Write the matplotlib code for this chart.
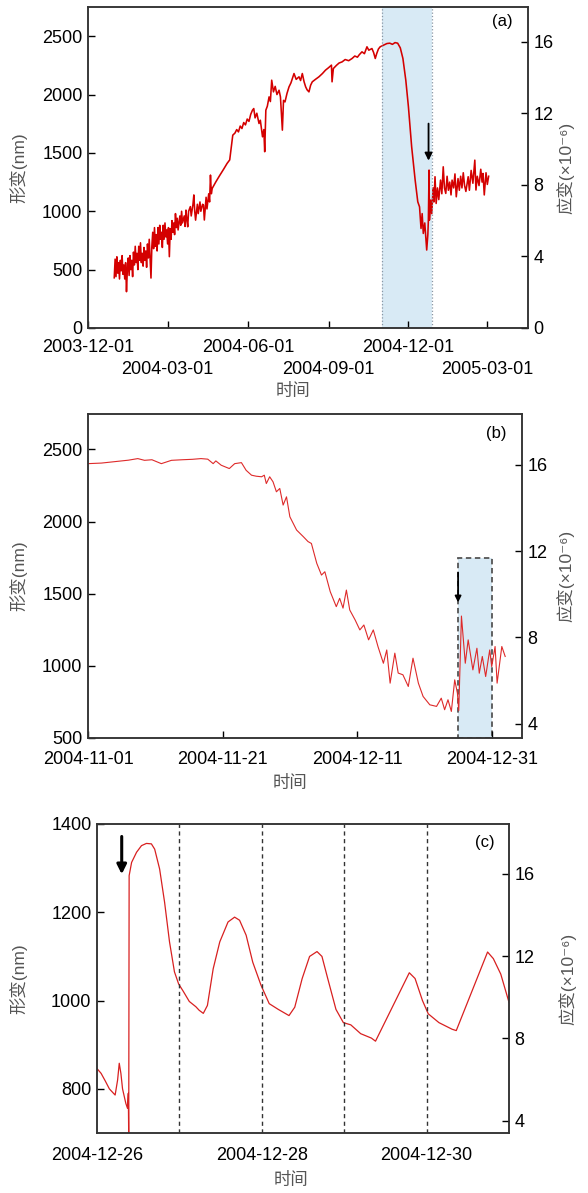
import numpy as np
import pandas as pd
import matplotlib
matplotlib.use('Agg')
import matplotlib.pyplot as plt
import matplotlib.dates as mdates
from matplotlib.patches import Rectangle

plt.rcParams['font.family'] = ['Liberation Sans', 'Noto Sans CJK SC', 'DejaVu Sans']
plt.rcParams['axes.unicode_minus'] = False

# ---- (a) 2003-12 ~ 2005-03, days from 2003-12-01
a_day = [30, 31, 32, 33, 34, 35, 36, 37, 38, 39, 40, 41, 42, 43, 44, 45, 46, 47, 48, 49,
         50, 51, 52, 53, 54, 55, 56, 57, 58, 59, 60, 61, 62, 63, 64, 65, 66, 67, 68, 69,
         70, 71, 72, 73, 74, 75, 76, 77, 78, 79, 80, 81, 82, 83, 84, 85, 86, 87, 88, 89,
         90, 91, 92, 93, 94, 95, 96, 97, 98, 99, 100, 101, 102, 103, 105, 106, 107, 108, 110, 111,
         112, 113, 114, 115, 117, 118, 120, 121, 122, 123, 125, 126, 128, 129, 131, 132, 133, 135, 136, 138,
         139, 140, 141, 142, 146, 150, 155, 159, 162, 164, 165.5, 168, 170, 172, 174, 176, 178, 180, 182, 184,
         186, 188, 189.5, 191, 193, 195.5, 197, 199.5, 201, 202, 203.3, 205, 207, 208.5, 210, 212, 214, 216, 218.4, 220,
         222.2, 223.5, 225.2, 227.5, 229.8, 232, 235.5, 238, 241.2, 243, 245, 247, 248.8, 250.5, 252.6, 254.5, 256.4, 260, 264, 268,
         271.5, 275, 278.3, 279, 280.5, 284, 287, 290.5, 294, 298, 301.9, 305, 308, 310, 313.2, 316, 318.9, 321, 324.6, 326.5,
         328.4, 330, 332, 334, 337, 341.7, 345, 348, 351, 354, 357, 360, 363.3, 366.3, 370, 374, 377, 379, 380.7, 382,
         383.3, 385, 387.2, 388.5, 389.1, 389.9, 390.3, 391.8, 393, 394.5, 395.5, 396.7, 398, 399.5, 401, 403, 404.5, 406.1, 407.5, 409,
         410.5, 412, 413.5, 415, 416.2, 418, 419.5, 421, 423, 424.5, 426, 427.5, 429, 430.5, 432, 434.6, 436, 438, 440, 442.2,
         443.5, 445, 447, 449, 450.5, 451.6, 453, 455, 456.5, 458]
a_nm = [430, 590, 440, 610, 470, 560, 420, 580, 490, 620, 460, 540, 420, 560, 311, 500, 600, 450, 620, 500,
        580, 440, 650, 540, 700, 560, 640, 500, 700, 580, 730, 560, 640, 530, 690, 580, 660, 520, 720, 600,
        760, 600, 428, 700, 820, 680, 860, 700, 800, 660, 860, 720, 880, 760, 820, 690, 880, 760, 900, 780,
        840, 720, 860, 611, 850, 760, 920, 820, 900, 800, 980, 860, 940, 840, 960, 880, 1000, 900, 960, 870,
        1010, 930, 867, 1000, 1040, 960, 1060, 1140, 1000, 924, 1060, 980, 1080, 1000, 1060, 1053, 925, 1120, 1020, 1150,
        1080, 1310, 1150, 1196, 1250, 1300, 1360, 1410, 1440, 1560, 1652, 1670, 1700, 1680, 1730, 1709, 1760, 1740, 1790, 1770,
        1830, 1866, 1880, 1800, 1840, 1752, 1780, 1638, 1700, 1510, 1866, 1900, 1980, 1940, 2123, 2023, 2070, 2000, 2037, 1980,
        1695, 1950, 1937, 2010, 2066, 2100, 2180, 2130, 2152, 2120, 2180, 2110, 2066, 2040, 2023, 2080, 2109, 2130, 2152, 2180,
        2209, 2230, 2252, 2109, 2223, 2250, 2270, 2280, 2300, 2290, 2309, 2330, 2320, 2340, 2366, 2350, 2409, 2380, 2394, 2360,
        2309, 2350, 2390, 2409, 2420, 2437, 2440, 2430, 2445, 2440, 2400, 2309, 2123, 1895, 1552, 1267, 1081, 1038, 853, 980,
        810, 900, 668, 800, 924, 1353, 924, 1096, 980, 1200, 1080, 1296, 1067, 1200, 1100, 1267, 1150, 1381, 1200, 1153,
        1300, 1180, 1250, 1140, 1267, 1200, 1320, 1124, 1280, 1180, 1300, 1200, 1330, 1220, 1170, 1296, 1180, 1350, 1240, 1438,
        1182, 1300, 1220, 1360, 1250, 1324, 1140, 1330, 1230, 1300]
a_ticks_top = ['2003-12-01', '2004-06-01', '2004-12-01']
a_ticks_low = ['2004-03-01', '2004-09-01', '2005-03-01']

# ---- (b) 2004-11-01 ~ 2005-01-02, days from 2004-11-01
b_day = [0, 2, 4, 6, 7.4, 8.4, 9.5, 10.9, 12.4, 14, 15.5, 16.8, 17.8, 18.6, 19, 19.8, 21, 21.8, 22.8, 23.5,
         24.3, 25, 25.8, 26.2, 26.5, 27, 27.5, 28, 28.5, 29, 29.5, 30, 31, 32, 32.7, 33.2, 34, 34.7, 35.2, 36,
         36.9, 37.4, 37.9, 38.4, 38.9, 39.7, 40.4, 41, 41.7, 42.4, 43.1, 43.9, 44.4, 44.9, 45.6, 46.1, 46.8, 47.6, 48.3, 49.1,
         49.8, 50.8, 51.8, 52.5, 53, 53.5, 54, 54.5, 54.9, 55.1, 55.5, 56.07, 56.5, 57.2, 57.8, 58.15, 58.6, 59.1, 59.7, 60,
         60.5, 60.8, 61.5, 62]
b_nm = [2401, 2405, 2415, 2425, 2436, 2424, 2428, 2401, 2424, 2428, 2431, 2436, 2432, 2401, 2420, 2390, 2367, 2401, 2408, 2355,
        2321, 2314, 2310, 2321, 2263, 2310, 2275, 2206, 2229, 2114, 2171, 2033, 1941, 1895, 1861, 1848, 1710, 1629, 1652, 1514,
        1410, 1468, 1400, 1525, 1387, 1318, 1249, 1283, 1180, 1249, 1133, 1018, 1110, 880, 1088, 950, 938, 857, 1053, 880,
        788, 730, 719, 776, 696, 765, 684, 903, 811, 690, 1345, 1018, 1180, 972, 1122, 949, 1065, 926, 1110, 995,
        1134, 880, 1134, 1065]
b_ticks = ['2004-11-01', '2004-11-21', '2004-12-11', '2004-12-31']

# ---- (c) 2004-12-26 ~ 2004-12-31, days from 2004-12-26
c_day = [0.00, 0.05, 0.10, 0.15, 0.20, 0.22, 0.25, 0.27, 0.29, 0.31, 0.35, 0.37, 0.38, 0.385, 0.39, 0.42, 0.48, 0.54, 0.60, 0.66,
         0.70, 0.76, 0.82, 0.88, 0.94, 0.99, 1.05, 1.12, 1.20, 1.24, 1.29, 1.34, 1.41, 1.49, 1.59, 1.67, 1.73, 1.81, 1.89, 1.99,
         2.09, 2.20, 2.33, 2.40, 2.49, 2.58, 2.67, 2.73, 2.80, 2.90, 2.99, 3.08, 3.20, 3.33, 3.38, 3.79, 3.86, 3.95, 4.02, 4.15,
         4.31, 4.36, 4.74, 4.81, 4.90, 5.00]
c_nm = [846, 835, 818, 800, 790, 786, 820, 858, 835, 800, 767, 756, 790, 690, 1283, 1313, 1336, 1351, 1356, 1355,
        1343, 1298, 1223, 1133, 1065, 1038, 1020, 998, 986, 978, 971, 989, 1072, 1133, 1178, 1189, 1182, 1148, 1087, 1035,
        993, 980, 966, 985, 1050, 1100, 1111, 1100, 1050, 980, 950, 945, 925, 915, 908, 1063, 1050, 1000, 970, 950,
        935, 932, 1110, 1095, 1060, 996]
c_ticks = ['2004-12-26', '2004-12-28', '2004-12-30']
c_lines = ['2004-12-27', '2004-12-28', '2004-12-29', '2004-12-30']

W, H = 588, 1193
fig = plt.figure(figsize=(W / 100, H / 100), dpi=100)


def box(l, t, r, b):
    return [l / W, 1 - b / H, (r - l) / W, (b - t) / H]


RED = '#d40000'
LAB = '#555555'
FS = 13
shade = '#d8eaf5'


def style(ax, axr):
    for a in (ax, axr):
        for s in a.spines.values():
            s.set_color('#333333')
            s.set_linewidth(1.1)
    ax.tick_params(direction='in', length=5, labelsize=FS, width=1, pad=4, top=False)
    axr.tick_params(direction='in', length=5, labelsize=FS, width=1, pad=4)


def labels(ax, axr, xl, xb, yl, yr, yc=0.5):
    ax.set_xlabel('时间', fontsize=12.5, color=LAB)
    ax.xaxis.label.set_va('center')
    ax.xaxis.set_label_coords(xl, xb)
    ax.set_ylabel('形变(nm)', fontsize=12.5, color=LAB)
    ax.yaxis.label.set_va('center')
    ax.yaxis.set_label_coords(yl, yc)
    axr.set_ylabel('应变(×10⁻⁶)', fontsize=12.5, color=LAB, rotation=90)
    axr.yaxis.label.set_va('center')
    axr.yaxis.set_label_coords(yr, yc)


# ================= (a)
ax1 = fig.add_axes(box(88, 7, 528, 328))
ax1r = ax1.twinx()
t0 = pd.Timestamp('2003-12-01')
ax1.plot(t0 + pd.to_timedelta(a_day, unit='D'), a_nm, color=RED, lw=1.15)
ax1.axvspan(pd.Timestamp('2004-11-01'), pd.Timestamp('2004-12-28'), color=shade, zorder=0, lw=0)
for d in ['2004-11-01', '2004-12-28']:
    ax1.axvline(pd.Timestamp(d), color='#8a96a3', ls=':', lw=0.9)
ax1.set_xlim(t0, pd.Timestamp('2005-04-17'))
ax1.set_ylim(0, 2750)
ax1.set_yticks([0, 500, 1000, 1500, 2000, 2500])
ax1r.set_ylim(0, 17.95)
ax1r.set_yticks([0, 4, 8, 12, 16])
ax1.set_xticks([pd.Timestamp(d) for d in a_ticks_top])
ax1.set_xticklabels(a_ticks_top)
ax1.set_xticks([pd.Timestamp(d) for d in a_ticks_low], minor=True)
ax1.set_xticklabels(a_ticks_low, minor=True)
style(ax1, ax1r)
ax1.tick_params(axis='x', which='major', pad=8)
ax1.tick_params(axis='x', which='minor', direction='in', length=5, width=1, labelsize=FS, pad=23.5)
ax1.annotate('', xy=(t0 + pd.Timedelta(days=389.3), 1410), xytext=(t0 + pd.Timedelta(days=389.3), 1775),
             arrowprops=dict(arrowstyle='-|>', color='k', lw=1.3, mutation_scale=11))
ax1.text(0.965, 0.955, '(a)', transform=ax1.transAxes, ha='right', va='center', fontsize=12)
labels(ax1, ax1r, 0.465, -0.197, -0.158, 1.085)

# ================= (b)
ax2 = fig.add_axes(box(88, 414, 522, 738))
ax2r = ax2.twinx()
t1 = pd.Timestamp('2004-11-01')
ax2.plot(t1 + pd.to_timedelta(b_day, unit='D'), b_nm, color='#de2a2a', lw=0.8)
x0 = mdates.date2num(pd.Timestamp('2004-12-26'))
x1 = mdates.date2num(pd.Timestamp('2004-12-31'))
ax2.add_patch(Rectangle((x0, 500), x1 - x0, 1250, facecolor=shade, edgecolor='#555555',
                        ls=(0, (3, 2)), lw=1.3, zorder=0))
ax2.set_xlim(t1, t1 + pd.Timedelta(days=64.5))
ax2.set_ylim(500, 2745)
ax2.set_yticks([500, 1000, 1500, 2000, 2500])
ax2r.set_ylim(3.34, 18.35)
ax2r.set_yticks([4, 8, 12, 16])
ax2.set_xticks([pd.Timestamp(d) for d in b_ticks])
ax2.set_xticklabels(b_ticks)
style(ax2, ax2r)
ax2.tick_params(axis='x', pad=9)
ax2.annotate('', xy=(t1 + pd.Timedelta(days=55.0), 1420), xytext=(t1 + pd.Timedelta(days=55.0), 1665),
             arrowprops=dict(arrowstyle='-|>', color='k', lw=1.3, mutation_scale=9))
ax2.text(0.965, 0.94, '(b)', transform=ax2.transAxes, ha='right', va='center', fontsize=12)
labels(ax2, ax2r, 0.465, -0.14, -0.161, 1.10)

# ================= (c)
ax3 = fig.add_axes(box(97, 824, 509, 1133))
ax3r = ax3.twinx()
t2 = pd.Timestamp('2004-12-26')
ax3.plot(t2 + pd.to_timedelta(c_day, unit='D'), c_nm, color='#d82020', lw=0.9)
for d in c_lines:
    ax3.axvline(pd.Timestamp(d), color='#333333', ls=(0, (3, 2.5)), lw=1.0)
ax3.set_xlim(t2, pd.Timestamp('2004-12-31'))
ax3.set_ylim(700, 1400)
ax3.set_yticks([800, 1000, 1200, 1400])
ax3r.set_ylim(3.4, 18.43)
ax3r.set_yticks([4, 8, 12, 16])
ax3.set_xticks([pd.Timestamp(d) for d in c_ticks])
ax3.set_xticklabels(c_ticks)
style(ax3, ax3r)
ax3.tick_params(axis='x', pad=10, length=0)
ax3.annotate('', xy=(t2 + pd.Timedelta(days=0.30), 1280), xytext=(t2 + pd.Timedelta(days=0.30), 1378),
             arrowprops=dict(arrowstyle='-|>', color='k', lw=2.2, mutation_scale=14))
ax3.text(0.965, 0.94, '(c)', transform=ax3.transAxes, ha='right', va='center', fontsize=12)
labels(ax3, ax3r, 0.47, -0.152, -0.192, 1.143)

fig.savefig('out.png', dpi=100)
